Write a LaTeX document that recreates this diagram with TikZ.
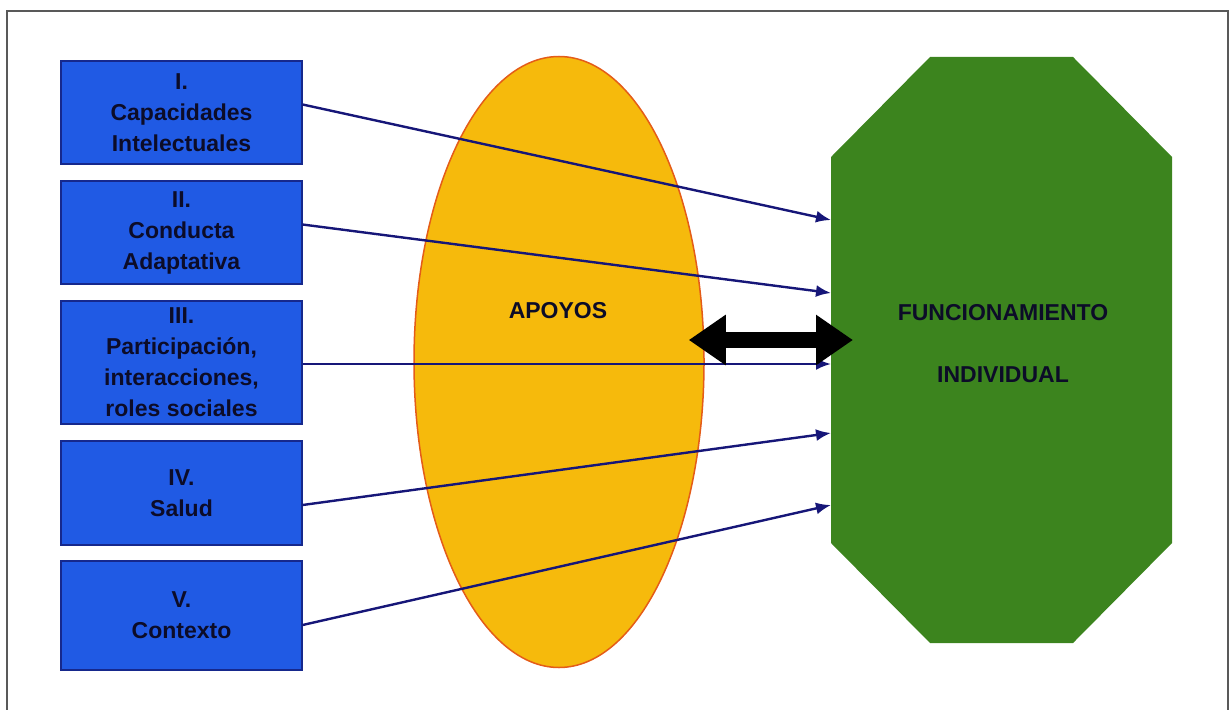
\documentclass[tikz,border=0pt]{standalone}
\usepackage{fontspec}
\setmainfont{Liberation Sans}
\usetikzlibrary{shapes.geometric,arrows.meta}
\definecolor{factorblue}{RGB}{32,90,228}
\definecolor{factorline}{RGB}{22,40,140}
\definecolor{apoyogold}{RGB}{246,186,12}
\definecolor{apoyoline}{RGB}{228,92,24}
\definecolor{funcgreen}{RGB}{60,132,30}
\definecolor{linknavy}{RGB}{22,22,120}
\definecolor{textnavy}{RGB}{12,12,40}
\tikzset{
  >={Latex[length=15pt,width=12pt]},
}
\tikzstyle{every node}=[font=\bfseries\fontsize{23}{31}\selectfont,text=textnavy]
\tikzstyle{factor}=[draw=factorline,line width=1.2pt,fill=factorblue,minimum width=241pt,align=center,inner sep=0pt]
\tikzstyle{link}=[->,line width=2.4pt,linknavy]
\tikzstyle{both}=[{Triangle[width=48pt,length=37pt]}-{Triangle[width=48pt,length=37pt]},line width=16pt,black]

\begin{document}
\begin{tikzpicture}[x=1pt,y=-1pt]
    \useasboundingbox (0,0) rectangle (1230,709);
    \draw[gray!70!black,line width=1.5pt] (7,715)--(7,11)--(1228,11)--(1228,715);

    % apoyos
    \node[ellipse,draw=apoyoline,line width=1.5pt,fill=apoyogold,minimum width=290pt,minimum height=611pt,inner sep=0pt] (apoyos) at (559,362) {};
    \node (apoyoslbl) at (558,311) {APOYOS};

    % funcionamiento
    \fill[funcgreen] (930,57)--(1073,57)--(1172,157)--(1172,543)
    --(1073,643)--(930,643)--(831,543)--(831,157)--cycle;
    \node[minimum width=341pt,minimum height=586pt,inner sep=0pt,outer sep=0pt] (func) at (1001.5,350) {};
    \node[align=center] (funclbl) at (1003,344) {FUNCIONAMIENTO\\[31pt]INDIVIDUAL};

    % dimensiones
    \node[factor,minimum height=103pt] (b1) at (181.5,112.5) {I.\\Capacidades\\Intelectuales};
    \node[factor,minimum height=103pt] (b2) at (181.5,232.5) {II.\\Conducta\\Adaptativa};
    \node[factor,minimum height=123pt] (b3) at (181.5,362.5) {III.\\Participación,\\interacciones,\\roles sociales};
    \node[factor,minimum height=104pt] (b4) at (181.5,493) {IV.\\Salud};
    \node[factor,minimum height=109pt] (b5) at (181.5,615.5) {V.\\Contexto};

    \draw[link] ([yshift=8pt]b1.east)--([yshift=130pt]func.west);
    \draw[link] ([yshift=8pt]b2.east)--([yshift=57pt]func.west);
    \draw[link] ([yshift=-1.5pt]b3.east)--([yshift=-14pt]func.west);
    \draw[link] ([yshift=-12pt]b4.east)--([yshift=-83pt]func.west);
    \draw[link] ([yshift=-9.5pt]b5.east)--([yshift=-155pt]func.west);

    \draw[both] ([shift={(-16pt,22pt)}]apoyos.east)--([shift={(22pt,10pt)}]func.west);
  \end{tikzpicture}
\end{document}
